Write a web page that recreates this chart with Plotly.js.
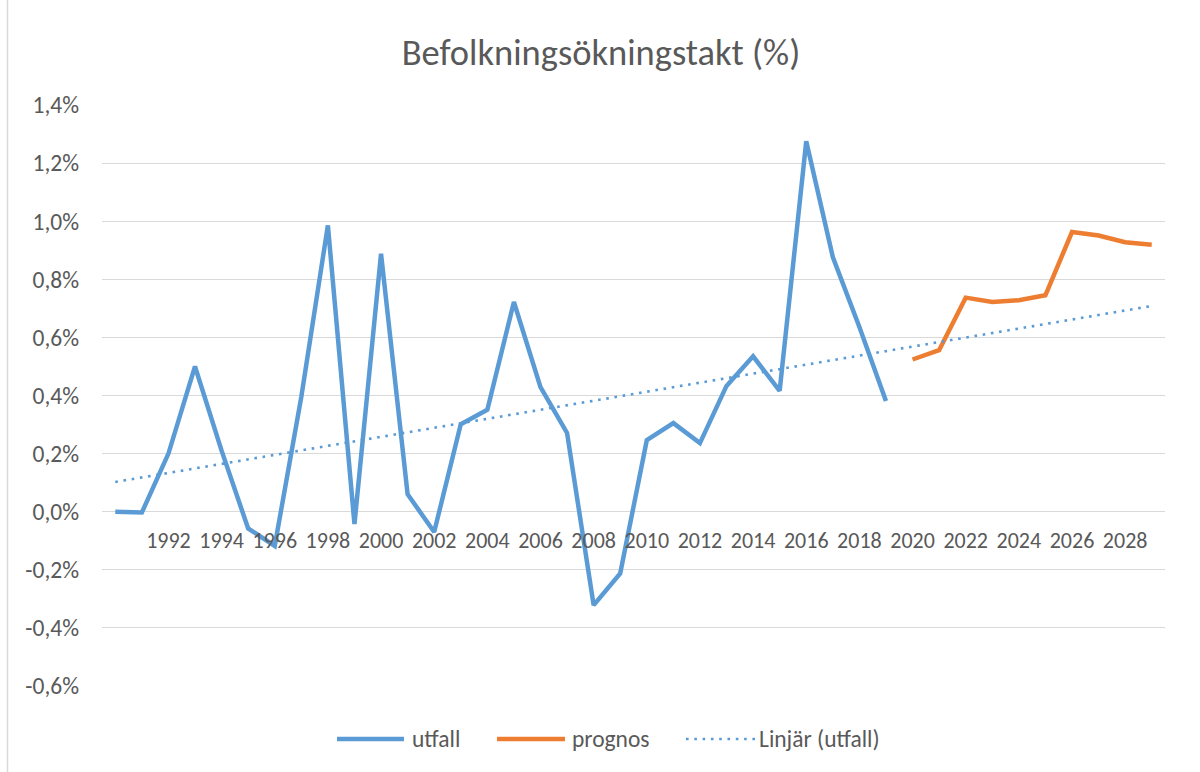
<!DOCTYPE html>
<html>
<head>
<meta charset="utf-8">
<script src="https://cdn.plot.ly/plotly-3.0.1.min.js"></script>
<style>html,body{margin:0;padding:0;background:#fff;}#chart{width:1200px;height:772px;}</style>
</head>
<body>
<div id="chart"></div>
<script>
// Categories (years)
var years = ['1990','1991','1992','1993','1994','1995','1996','1997','1998','1999',
             '2000','2001','2002','2003','2004','2005','2006','2007','2008','2009',
             '2010','2011','2012','2013','2014','2015','2016','2017','2018','2019',
             '2020','2021','2022','2023','2024','2025','2026','2027','2028','2029'];
// Outcome 1990–2019 (%)
var utfallYears = years.slice(0, 30);
var utfall = [0.00, -0.003, 0.20, 0.50, 0.21, -0.058, -0.118, 0.395, 0.986, -0.043,
              0.888, 0.06, -0.07, 0.301, 0.351, 0.722, 0.429, 0.271, -0.322, -0.213,
              0.246, 0.305, 0.236, 0.433, 0.535, 0.416, 1.276, 0.877, 0.636, 0.381];
// Forecast 2020–2029 (%)
var prognosYears = years.slice(30);
var prognos = [0.524, 0.556, 0.737, 0.722, 0.728, 0.745, 0.963, 0.951, 0.928, 0.919];
// Tick labels
var xTickLabels = ['1992','1994','1996','1998','2000','2002','2004','2006','2008','2010',
                   '2012','2014','2016','2018','2020','2022','2024','2026','2028'];
var yTicks = [-0.6, -0.4, -0.2, 0.0, 0.2, 0.4, 0.6, 0.8, 1.0, 1.2, 1.4];
var seriesNames = ['utfall', 'prognos', 'Linjär (utfall)'];

// Linear trend (least squares on utfall, extended over all categories, like Excel)
var n = utfall.length, sx = 0, sy = 0, sxx = 0, sxy = 0;
for (var i = 0; i < n; i++) { sx += i; sy += utfall[i]; sxx += i * i; sxy += i * utfall[i]; }
var slope = (n * sxy - sx * sy) / (n * sxx - sx * sx);
var intercept = (sy - slope * sx) / n;
var trendY = years.map(function (_, i) { return intercept + slope * i; });

var BLUE = '#5B9BD5', ORANGE = '#ED7D31', GREY = '#595959', GRID = '#D9D9D9';
var FONT = 'Calibri, Carlito, "Open Sans", sans-serif';

var traces = [
  {x: utfallYears, y: utfall, type: 'scatter', mode: 'lines', name: seriesNames[0],
   line: {color: BLUE, width: 4.5}, hoverinfo: 'x+y'},
  {x: prognosYears, y: prognos, type: 'scatter', mode: 'lines', name: seriesNames[1],
   line: {color: ORANGE, width: 4.5}},
  {x: years, y: trendY, type: 'scatter', mode: 'lines', name: seriesNames[2],
   line: {color: BLUE, width: 2.6, dash: '2.6px,5.7px'}}
];

// plot area: x 102..1165, y 105..686
function px(x) { return (x - 102) / 1063; }
function py(y) { return (686 - y) / 581; }
var legY = py(739);
var shapes = [
  {type: 'line', xref: 'paper', yref: 'paper', x0: px(337), x1: px(404), y0: legY, y1: legY,
   line: {color: BLUE, width: 4.5}},
  {type: 'line', xref: 'paper', yref: 'paper', x0: px(497), x1: px(565), y0: legY, y1: legY,
   line: {color: ORANGE, width: 4.5}},
  {type: 'line', xref: 'paper', yref: 'paper', x0: px(686), x1: px(756), y0: legY, y1: legY,
   line: {color: BLUE, width: 2.6, dash: '2.6px,5.7px'}},
  {type: 'line', xref: 'paper', yref: 'paper', x0: px(7.5), x1: px(7.5), y0: py(0), y1: py(772),
   line: {color: GRID, width: 1.5}}
];
var LFS = 23.5;
var annotations = [
  {xref: 'paper', yref: 'paper', x: px(410), y: legY, text: seriesNames[0], showarrow: false,
   xanchor: 'left', yanchor: 'middle', font: {family: FONT, size: LFS, color: GREY}},
  {xref: 'paper', yref: 'paper', x: px(570), y: legY, text: seriesNames[1], showarrow: false,
   xanchor: 'left', yanchor: 'middle', font: {family: FONT, size: LFS, color: GREY}},
  {xref: 'paper', yref: 'paper', x: px(757), y: legY, text: seriesNames[2], showarrow: false,
   xanchor: 'left', yanchor: 'middle', font: {family: FONT, size: LFS, color: GREY}}
];

var layout = {
  width: 1200, height: 772,
  margin: {l: 102, r: 35, t: 105, b: 86, pad: 0},
  paper_bgcolor: '#fff', plot_bgcolor: '#fff',
  showlegend: false,
  title: {text: 'Befolkningsökningstakt (%)', xref: 'container', yref: 'container',
          x: 601 / 1200, y: 1 - 52 / 772, xanchor: 'center', yanchor: 'middle',
          font: {family: FONT, size: 36.5, color: GREY}},
  xaxis: {type: 'category', range: [-0.5, years.length - 0.5],
          anchor: 'free', position: 0.3,
          tickmode: 'array', tickvals: xTickLabels, ticktext: xTickLabels,
          tickangle: 0, ticks: '', showgrid: false, showline: false, zeroline: false,
          ticklabelstandoff: 13,
          tickfont: {family: FONT, size: 22, color: GREY}, fixedrange: true},
  yaxis: {range: [-0.6005, 1.4005], tickmode: 'array', tickvals: yTicks,
          ticktext: yTicks.map(function (v) { return v.toFixed(1).replace('.', ',') + '%'; }),
          showgrid: true, gridcolor: GRID, gridwidth: 1.2,
          zeroline: true, zerolinecolor: GRID, zerolinewidth: 1.2,
          showline: false, ticks: '', ticklabelstandoff: 22,
          tickfont: {family: FONT, size: 23.5, color: GREY}, fixedrange: true},
  shapes: shapes,
  annotations: annotations
};

Plotly.newPlot('chart', traces, layout, {displayModeBar: false, staticPlot: true});
</script>
</body>
</html>
